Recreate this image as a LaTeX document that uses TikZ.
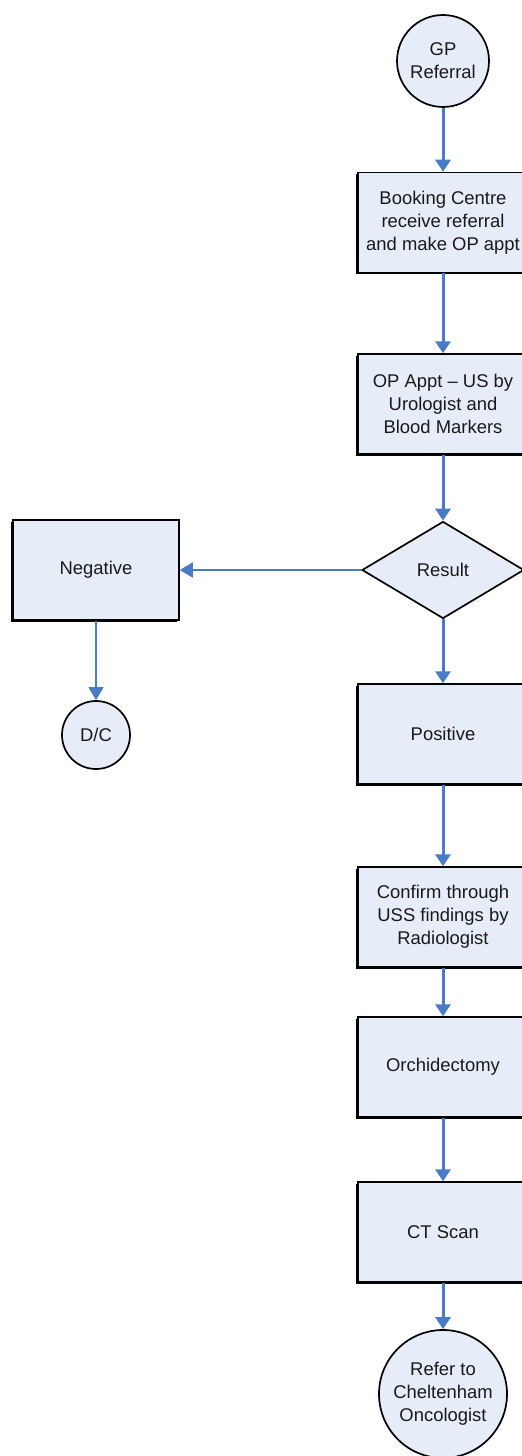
\documentclass[tikz,border=0pt]{standalone}
\usepackage{fontspec}
\setmainfont{Liberation Sans}
\usetikzlibrary{shapes.geometric,arrows.meta,shadows}
\definecolor{boxfill}{HTML}{E7EDF8}
\definecolor{flowblue}{HTML}{4A7BC6}
\tikzset{
  x=1bp,y=-1bp,
  every node/.style={font=\fontsize{18.5}{23}\selectfont, align=center, text=black!90},
  procbox/.style={rectangle, draw=black, line width=1.5bp, fill=boxfill,
    minimum width=170bp, minimum height=100bp, inner sep=0pt,
    drop shadow={shadow xshift=-1.6bp, shadow yshift=-1.6bp, fill=black, opacity=1}},
  endcircle/.style={circle, draw=black, line width=1.7bp, fill=boxfill, inner sep=0pt},
  decision/.style={diamond, draw=black, line width=1.7bp, fill=boxfill,
    minimum width=162bp, minimum height=97bp, inner sep=0pt},
  flow/.style={draw=flowblue, line width=3bp, -{Triangle[width=15bp,length=12bp]}},
  thinflow/.style={draw=flowblue, line width=1.5bp, -{Triangle[width=15bp,length=13bp]}},
}
\begin{document}
\begin{tikzpicture}
\useasboundingbox (0,0) rectangle (522,1456);
\clip (0,0) rectangle (522,1456);
\fill[white] (0,0) rectangle (522,1456);
\node[endcircle, minimum size=92bp] (gp) at (443,61) {GP\\Referral};
\node[procbox] (book) at (443,222.5) {Booking Centre\\receive referral\\and make OP appt};
\node[procbox] (op) at (443,404) {OP Appt -- US by\\Urologist and\\Blood Markers};
\node[decision] (res) at (443,570) {Result};
\node[procbox, minimum width=166bp] (neg) at (96,570) {Negative};
\node[endcircle, minimum size=68bp] (dc) at (96,735) {D/C};
\node[procbox] (pos) at (443,734) {Positive};
\node[procbox] (conf) at (443,917) {Confirm through\\USS findings by\\Radiologist};
\node[procbox] (orch) at (443,1067) {Orchidectomy};
\node[procbox] (ct) at (443,1232) {CT Scan};
\node[endcircle, minimum size=128bp] (ref) at (443,1394) {Refer to\\Cheltenham\\Oncologist};
\draw[flow] (gp) -- (book);
\draw[flow] (book) -- (op);
\draw[flow] (op) -- (res);
\draw[flow] (res) -- (pos);
\draw[flow] (pos) -- (conf);
\draw[flow] (conf) -- (orch);
\draw[flow] (orch) -- (ct);
\draw[flow] (ct) -- (ref);
\draw[thinflow] (res) -- (neg);
\draw[thinflow] (neg) -- (dc);
\end{tikzpicture}
\end{document}
